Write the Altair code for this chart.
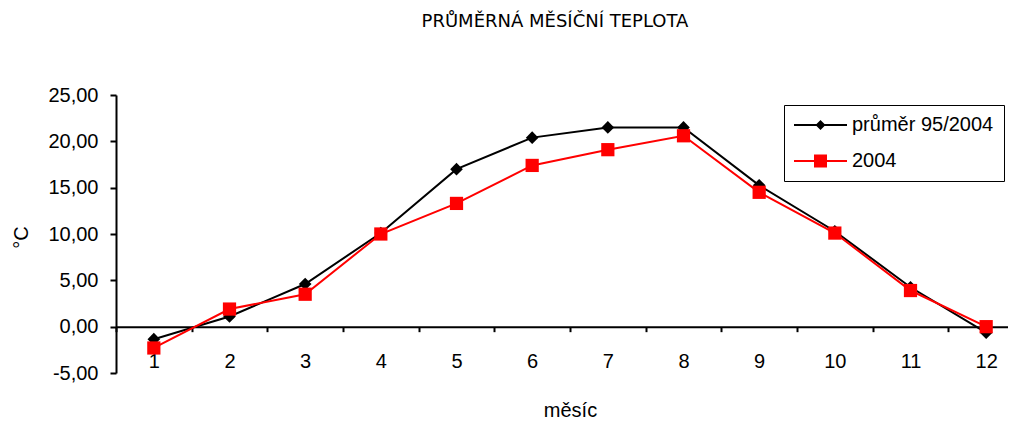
import altair as alt
import pandas as pd

# ---- data ----
months = [1, 2, 3, 4, 5, 6, 7, 8, 9, 10, 11, 12]
avg_95_2004 = [-1.35, 1.1, 4.6, 10.1, 17.0, 20.4, 21.5, 21.5, 15.25, 10.3, 4.25, -0.65]
temp_2004 = [-2.3, 1.9, 3.5, 10.0, 13.3, 17.4, 19.1, 20.6, 14.5, 10.1, 3.9, 0.0]
series_names = ["průměr 95/2004", "2004"]
series_colors = ["#000000", "#FF0000"]
y_tick_values = [-5, 0, 5, 10, 15, 20, 25]
x_tick_values = [m - 0.5 for m in months]   # category boundaries

rows = []
for m, v in zip(months, avg_95_2004):
    rows.append({"month": m, "value": v, "series": series_names[0]})
for m, v in zip(months, temp_2004):
    rows.append({"month": m, "value": v, "series": series_names[1]})
df = pd.DataFrame(rows)

W = 908
H = 278
FONT = "Liberation Sans"

x_scale = alt.Scale(domain=[0.5, 12.5], nice=False, zero=False)
y_scale = alt.Scale(domain=[-5, 25], nice=False, zero=False)

x_axis = alt.Axis(
    values=x_tick_values,
    labelExpr="format(datum.value + 0.5, 'd')",
    labelOffset=W / 12 / 2,
    offset=-H * 5 / 30,
    domain=True, domainColor="black", domainWidth=2,
    ticks=True, tickColor="black", tickSize=5, tickWidth=2,
    labelPadding=20, labelFont=FONT, labelFontSize=20, labelColor="black",
    labelOverlap=False, labelFlush=False, grid=False,
    title="měsíc", titleFont=FONT, titleFontSize=20, titleFontWeight="normal",
    titleColor="black", titleX=W / 2, titleY=90, titleBaseline="alphabetic",
    titleAlign="center",
)

y_axis = alt.Axis(
    values=y_tick_values,
    labelExpr="replace(replace(format(datum.value, '.2f'), '.', ','), '\u2212', '-')",
    domain=True, domainColor="black", domainWidth=2,
    ticks=True, tickColor="black", tickSize=6, tickWidth=2,
    labelPadding=12, labelFont=FONT, labelFontSize=20, labelColor="black",
    labelBaseline="middle", grid=False,
    title="°C", titleFont=FONT, titleFontSize=20, titleFontWeight="normal",
    titleColor="black", titleX=-95, titleY=142,
    titleBaseline="middle", titleAlign="center",
)

X = alt.X("month:Q", scale=x_scale, axis=x_axis)
Y = alt.Y("value:Q", scale=y_scale, axis=y_axis)

base = alt.Chart(df)

black_layer = base.transform_filter(
    alt.datum.series == series_names[0]
).mark_line(
    color=series_colors[0], strokeWidth=2,
    point=alt.OverlayMarkDef(shape="diamond", size=160, filled=True, opacity=1,
                             color=series_colors[0], strokeWidth=0),
).encode(x=X, y=Y)

red_layer = base.transform_filter(
    alt.datum.series == series_names[1]
).mark_line(
    color=series_colors[1], strokeWidth=2,
    point=alt.OverlayMarkDef(shape="square", size=175, filled=True, opacity=1,
                             color=series_colors[1], strokeWidth=0),
).encode(x=X, y=Y)

# legend symbols: a line with the marker in its middle (unit = 10 px)
path_black = ("M-1,-0.1L4.3,-0.1L4.3,0.1L-1,0.1Z"
              "M1.65,-0.5L2.15,0L1.65,0.5L1.15,0Z")
path_red = ("M-1,-0.1L4.3,-0.1L4.3,0.1L-1,0.1Z"
            "M1.0,-0.65L2.3,-0.65L2.3,0.65L1.0,0.65Z")

legend = alt.Legend(
    title=None, orient="none", legendX=668, legendY=10,
    strokeColor="black", fillColor="white", padding=10,
    labelFont=FONT, labelFontSize=20, labelColor="black",
    symbolSize=400, symbolStrokeWidth=0, symbolOpacity=1,
    labelOffset=38, rowPadding=16,
)

legend_layer = base.transform_filter("datum.month < 0").mark_point(
    filled=True, strokeWidth=0, opacity=1
).encode(
    x=X, y=Y,
    color=alt.Color("series:N", scale=alt.Scale(domain=series_names, range=series_colors),
                    legend=legend),
    shape=alt.Shape("series:N", scale=alt.Scale(domain=series_names, range=[path_black, path_red]),
                    legend=legend),
)

chart = alt.layer(black_layer, red_layer, legend_layer).properties(
    width=W, height=H,
    background="white",
    title=alt.TitleParams(
        "PRŮMĚRNÁ MĚSÍČNÍ TEPLOTA", font="DejaVu Sans", fontSize=18,
        fontWeight="normal", color="black", anchor="middle", frame="group",
        dx=-15, offset=40, baseline="alphabetic",
    ),
    autosize=alt.AutoSizeParams(type="none"),
    padding={"left": 108, "top": 87, "right": -16, "bottom": 48},
).configure_view(strokeWidth=0, strokeOpacity=0)

chart.save("out.html", embed_options={"renderer": "svg", "actions": False})
